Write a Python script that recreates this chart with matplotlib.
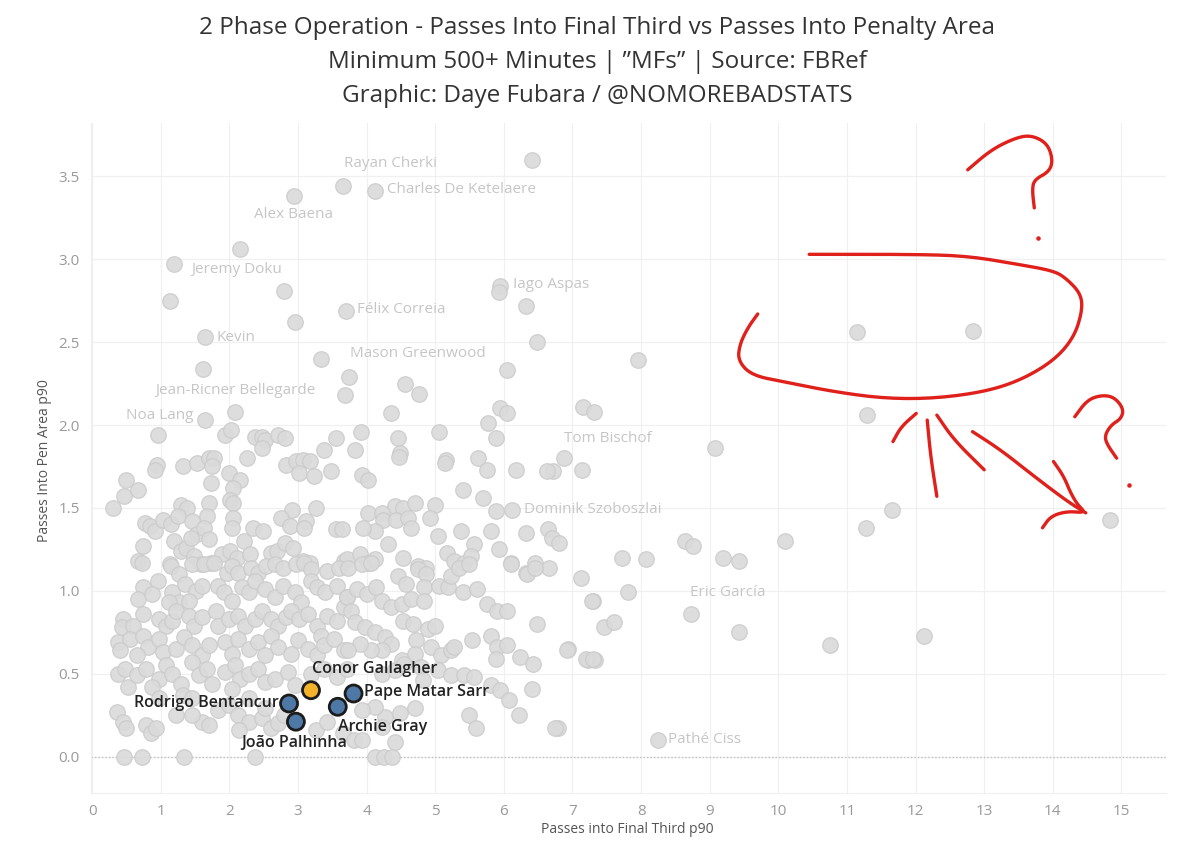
import matplotlib
matplotlib.use("Agg")
import matplotlib.pyplot as plt
import numpy as np

plt.rcParams['font.family'] = ['Open Sans', 'DejaVu Sans']

# grey players, (passes into final third p90, passes into pen area p90)
top_pts = [(6.41, 3.60), (3.66, 3.44), (4.12, 3.41), (2.94, 3.38), (2.15, 3.06), (1.20, 2.97),
           (2.80, 2.81), (1.13, 2.75), (3.70, 2.69), (2.95, 2.62), (1.64, 2.53), (5.94, 2.84),
           (5.93, 2.80), (6.33, 2.72), (6.49, 2.50), (3.34, 2.40), (1.61, 2.34), (3.74, 2.29),
           (6.04, 2.33), (4.56, 2.25), (4.77, 2.19), (3.69, 2.18), (2.08, 2.08), (1.64, 2.03),
           (4.36, 2.07), (5.77, 2.01), (5.94, 2.10), (6.04, 2.07), (7.15, 2.11), (7.32, 2.08),
           (7.96, 2.39)]

upper_pts = [(5.06, 1.96), (4.46, 1.92), (5.88, 1.92), (3.92, 1.96), (3.56, 1.92), (3.83, 1.85),
             (3.38, 1.85), (0.96, 1.94), (1.93, 1.94), (2.03, 1.97), (2.37, 1.93), (2.47, 1.93),
             (2.52, 1.91), (2.71, 1.94), (2.81, 1.92), (2.47, 1.86), (4.49, 1.83), (5.16, 1.79),
             (5.63, 1.80), (6.88, 1.80), (2.26, 1.80), (2.82, 1.76), (2.97, 1.78), (3.07, 1.79),
             (3.17, 1.78), (3.02, 1.71), (3.24, 1.69), (3.48, 1.72), (0.94, 1.76), (0.91, 1.73),
             (1.32, 1.75), (1.53, 1.77), (1.70, 1.80), (1.77, 1.80), (1.75, 1.75), (1.99, 1.71),
             (2.16, 1.67), (2.06, 1.62), (1.73, 1.65), (0.50, 1.67), (0.47, 1.57), (0.67, 1.61),
             (0.31, 1.50), (9.07, 1.86), (7.14, 1.73), (6.71, 1.72), (4.47, 1.81), (3.93, 1.70),
             (4.02, 1.67), (5.14, 1.77), (5.75, 1.73), (6.18, 1.73), (6.63, 1.72), (5.41, 1.61),
             (5.70, 1.56), (5.88, 1.48), (6.12, 1.49)]

band_pts = [(2.01, 1.55), (2.06, 1.53), (1.70, 1.53), (1.29, 1.52), (1.39, 1.50), (2.92, 1.49),
            (3.26, 1.50), (1.68, 1.45), (0.77, 1.41), (0.84, 1.39), (0.91, 1.36), (1.03, 1.43),
            (1.15, 1.40), (1.25, 1.45), (1.46, 1.42), (1.53, 1.34), (1.63, 1.38), (2.06, 1.44),
            (2.04, 1.38), (2.35, 1.38), (2.49, 1.36), (2.76, 1.44), (2.88, 1.39), (3.12, 1.42),
            (3.09, 1.38), (3.55, 1.37), (4.41, 1.51), (4.53, 1.50), (4.71, 1.53), (4.99, 1.52),
            (4.02, 1.47), (4.22, 1.47), (4.24, 1.43), (4.12, 1.36), (3.95, 1.38), (4.43, 1.43),
            (4.60, 1.44), (4.65, 1.38), (4.92, 1.44), (5.04, 1.33), (5.38, 1.36), (5.56, 1.28),
            (5.82, 1.36), (5.93, 1.25), (6.32, 1.35), (6.65, 1.37), (6.70, 1.32), (6.81, 1.29),
            (4.31, 1.28), (3.64, 1.37), (0.74, 1.27), (0.67, 1.18), (1.20, 1.30), (1.29, 1.24),
            (1.37, 1.26), (1.49, 1.21), (1.70, 1.31), (1.44, 1.32), (1.89, 1.22), (2.01, 1.24),
            (2.11, 1.20), (2.21, 1.30), (2.30, 1.22), (2.61, 1.23), (2.69, 1.24), (2.81, 1.29),
            (2.93, 1.26), (3.07, 1.18), (3.17, 1.17), (1.13, 1.16), (1.73, 1.17), (1.58, 1.16),
            (3.67, 1.18), (4.53, 1.20), (3.71, 1.19), (3.90, 1.22), (4.02, 1.17), (4.12, 1.19),
            (4.75, 1.15), (4.87, 1.14), (5.17, 1.23), (5.28, 1.18), (5.42, 1.17), (5.52, 1.21),
            (6.10, 1.17), (6.46, 1.17), (6.66, 1.14), (6.33, 1.11), (7.12, 1.08)]

right_pts = [(11.14, 2.56), (12.84, 2.57), (11.29, 2.06), (11.66, 1.49), (11.28, 1.38),
             (14.83, 1.43), (8.64, 1.30), (8.75, 1.27), (10.10, 1.30), (7.72, 1.20), (8.07, 1.19),
             (9.20, 1.20), (9.43, 1.18), (7.30, 0.94), (7.81, 0.99), (8.73, 0.86), (7.46, 0.78),
             (7.60, 0.81), (9.42, 0.75), (10.76, 0.67), (12.13, 0.73), (6.94, 0.65), (7.22, 0.58),
             (7.33, 0.58), (6.79, 0.17), (8.24, 0.10)]

core_pts = [(0.72, 1.17), (1.15, 1.15), (1.27, 1.10), (1.46, 1.16), (1.63, 1.16), (1.77, 1.17),
            (1.96, 1.11), (2.04, 1.15), (2.13, 1.11), (2.32, 1.14), (2.42, 1.11), (2.54, 1.15),
            (2.66, 1.16), (2.78, 1.14), (2.97, 1.16), (3.09, 1.17), (3.19, 1.13), (3.43, 1.12),
            (3.60, 1.14), (0.96, 1.06), (0.74, 1.02), (0.67, 0.95), (0.88, 0.98), (1.17, 0.99),
            (1.27, 0.93), (1.36, 1.04), (1.51, 1.00), (1.60, 1.03), (1.84, 1.03), (1.92, 0.99),
            (2.04, 0.94), (2.18, 1.02), (2.28, 0.99), (2.37, 1.06), (2.52, 1.01), (2.66, 0.96),
            (2.78, 1.03), (2.95, 0.99), (3.04, 0.93), (3.19, 1.06), (3.28, 1.02), (3.40, 0.99),
            (3.57, 1.03), (3.71, 0.96), (1.12, 0.93), (1.41, 0.94), (0.45, 0.83), (0.43, 0.78),
            (0.38, 0.69), (0.60, 0.79), (0.74, 0.86), (0.98, 0.83), (1.08, 0.79), (1.17, 0.82),
            (1.22, 0.88), (1.41, 0.85), (1.48, 0.79), (1.60, 0.84), (1.80, 0.88), (1.84, 0.79),
            (1.99, 0.83), (2.13, 0.85), (2.23, 0.79), (2.37, 0.83), (2.47, 0.88), (2.61, 0.83),
            (2.71, 0.79), (2.83, 0.84), (2.90, 0.88), (3.02, 0.83), (3.14, 0.86), (3.28, 0.79),
            (3.43, 0.85), (3.57, 0.82), (3.67, 0.90), (3.33, 0.73), (0.55, 0.71), (0.74, 0.73),
            (0.81, 0.66), (0.98, 0.71), (1.03, 0.63), (1.22, 0.65), (1.34, 0.72), (1.46, 0.67),
            (1.60, 0.61), (1.70, 0.67), (1.94, 0.69), (2.04, 0.62), (2.13, 0.71), (2.28, 0.65),
            (2.42, 0.69), (2.52, 0.61), (2.61, 0.73), (2.71, 0.66), (2.90, 0.62), (3.00, 0.70),
            (3.14, 0.65), (3.28, 0.61), (3.38, 0.67), (3.52, 0.71), (3.67, 0.64), (0.65, 0.61),
            (0.41, 0.64), (0.38, 0.50), (0.48, 0.53), (0.53, 0.42), (0.65, 0.49), (0.79, 0.53),
            (0.98, 0.47), (1.08, 0.55), (1.17, 0.50), (1.29, 0.44), (1.46, 0.57), (1.56, 0.49),
            (1.68, 0.53), (1.75, 0.44), (1.94, 0.51), (2.08, 0.55), (2.16, 0.47), (2.28, 0.50),
            (2.42, 0.53), (2.52, 0.45), (2.66, 0.47), (2.85, 0.51), (2.95, 0.43), (3.19, 0.50),
            (3.38, 0.53), (3.57, 0.48), (3.71, 0.53), (0.88, 0.42), (2.04, 0.41), (0.36, 0.27),
            (0.45, 0.21), (0.50, 0.17), (0.79, 0.19), (0.86, 0.14), (0.93, 0.17), (1.22, 0.25),
            (1.32, 0.37), (1.46, 0.35), (1.60, 0.21), (1.70, 0.19), (1.84, 0.28), (1.99, 0.31),
            (2.13, 0.25), (2.28, 0.21), (2.47, 0.23), (2.61, 0.17), (2.71, 0.20), (2.80, 0.25),
            (2.52, 0.29), (2.28, 0.35), (1.46, 0.25), (0.98, 0.35), (2.14, 0.16), (3.26, 0.16),
            (3.42, 0.21), (3.65, 0.14), (3.82, 0.10), (0.46, 0.00), (0.73, 0.00), (1.34, 0.00),
            (2.38, 0.00), (4.12, 0.00), (4.26, 0.00), (4.37, 0.00)]

mid_pts = [(3.73, 1.14), (3.93, 1.16), (4.07, 1.17), (4.46, 1.09), (4.58, 1.04), (4.75, 1.13),
           (4.87, 1.10), (4.84, 1.02), (5.06, 1.03), (5.18, 1.02), (5.23, 1.09), (5.35, 1.14),
           (5.49, 1.16), (5.40, 0.99), (5.61, 1.01), (5.76, 0.92), (5.90, 0.88), (6.05, 0.88),
           (6.10, 1.16), (6.34, 1.10), (6.46, 1.14), (7.28, 0.94), (3.71, 0.96), (3.86, 1.01),
           (4.00, 0.98), (4.14, 1.02), (4.22, 0.94), (4.36, 0.90), (4.51, 0.92), (4.65, 0.95),
           (4.84, 0.94), (3.78, 0.88), (3.83, 0.81), (3.98, 0.78), (4.12, 0.75), (4.27, 0.72),
           (4.36, 0.68), (4.53, 0.82), (4.67, 0.80), (4.72, 0.70), (4.89, 0.77), (4.99, 0.79),
           (4.94, 0.66), (5.08, 0.61), (5.23, 0.64), (5.28, 0.66), (5.54, 0.70), (5.81, 0.73),
           (5.90, 0.66), (6.05, 0.67), (5.88, 0.59), (6.24, 0.60), (6.43, 0.56), (6.48, 0.80),
           (6.92, 0.64), (7.20, 0.59), (7.30, 0.59), (4.22, 0.64), (4.07, 0.64), (3.90, 0.68),
           (4.51, 0.58), (4.70, 0.62), (3.73, 0.64), (4.22, 0.50), (4.41, 0.52), (4.55, 0.56),
           (4.80, 0.54), (5.04, 0.52), (5.23, 0.49), (5.42, 0.49), (5.57, 0.48), (5.81, 0.43),
           (5.95, 0.40), (6.07, 0.34), (6.22, 0.25), (6.41, 0.41), (6.75, 0.17), (5.49, 0.25),
           (5.59, 0.17), (4.70, 0.29), (4.41, 0.09), (4.27, 0.24), (4.12, 0.30), (3.93, 0.28),
           (4.48, 0.26), (4.82, 0.46), (4.22, 0.18), (3.93, 0.10)]

# named grey players (label, x, y of text, ha)
grey_labels = [("Rayan Cherki", 3.67, 3.58, "left"), ("Charles De Ketelaere", 4.30, 3.42, "left"),
               ("Alex Baena", 2.93, 3.27, "center"), ("Jeremy Doku", 1.44, 2.94, "left"),
               ("Iago Aspas", 6.13, 2.85, "left"), ("Félix Correia", 3.86, 2.70, "left"),
               ("Kevin", 1.82, 2.53, "left"), ("Mason Greenwood", 3.76, 2.43, "left"),
               ("Jean-Ricner Bellegarde", 2.09, 2.21, "center"), ("Noa Lang", 1.48, 2.06, "right"),
               ("Tom Bischof", 6.87, 1.92, "left"), ("Dominik Szoboszlai", 6.30, 1.49, "left"),
               ("Eric García", 8.71, 0.99, "left"), ("Pathé Ciss", 8.39, 0.10, "left")]

# highlighted players
hl_names = ["Rodrigo Bentancur", "João Palhinha", "Conor Gallagher", "Archie Gray", "Pape Matar Sarr"]
hl_x = [2.87, 2.97, 3.19, 3.58, 3.81]
hl_y = [0.32, 0.21, 0.40, 0.30, 0.38]
hl_col = ["#4e79a7", "#4e79a7", "#f2b22a", "#4e79a7", "#4e79a7"]
hl_text = [(2.72, 0.32, "right"), (2.95, 0.08, "center"), (3.21, 0.53, "left"),
           (3.59, 0.18, "left"), (3.96, 0.39, "left")]

# hand drawn red marks
red_q1 = [(12.76, 3.54), (13.10, 3.66), (13.44, 3.73), (13.68, 3.75), (13.92, 3.70), (14.00, 3.60),
          (13.95, 3.53), (13.73, 3.48), (13.70, 3.42), (13.73, 3.31)]
red_loop = [(10.45, 3.03), (11.98, 3.03), (12.76, 3.02), (13.49, 2.97), (14.02, 2.93), (14.21, 2.88),
            (14.41, 2.79), (14.43, 2.69), (14.31, 2.53), (14.02, 2.39), (13.53, 2.27), (13.00, 2.20),
            (12.27, 2.16), (11.55, 2.16), (10.82, 2.20), (10.09, 2.26), (9.61, 2.30), (9.41, 2.39),
            (9.44, 2.49), (9.56, 2.59), (9.70, 2.67)]
red_s1 = [(11.67, 1.90), (11.79, 1.99), (12.01, 2.07)]
red_s2 = [(12.17, 2.03), (12.22, 1.81), (12.31, 1.57)]
red_s3 = [(12.31, 2.06), (12.56, 1.91), (13.00, 1.73)]
red_arrow = [(12.83, 1.96), (13.24, 1.85), (13.73, 1.69), (14.21, 1.54), (14.48, 1.47)]
red_head = [(14.01, 1.78), (14.16, 1.69), (14.26, 1.59), (14.36, 1.52), (14.48, 1.47), (14.21, 1.48),
            (13.97, 1.45), (13.85, 1.38)]
red_q2 = [(14.32, 2.05), (14.50, 2.15), (14.70, 2.18), (14.89, 2.17), (15.03, 2.10), (15.00, 2.04),
          (14.85, 2.00), (14.76, 1.94), (14.78, 1.89), (14.93, 1.80)]
red_dots = [(13.79, 3.13), (15.11, 1.64)]


def smooth(pts, n=3):
    p = np.array(pts, dtype=float)
    for _ in range(n):
        q = 0.75 * p[:-1] + 0.25 * p[1:]
        r = 0.25 * p[:-1] + 0.75 * p[1:]
        mid = np.empty((2 * len(q), 2))
        mid[0::2] = q
        mid[1::2] = r
        p = np.vstack([p[:1], mid, p[-1:]])
    return p[:, 0], p[:, 1]


fig = plt.figure(figsize=(12, 8.51), dpi=100)
ax = fig.add_axes([0.0756, 0.0682, 0.8961, 0.7868])

for grp in [top_pts, upper_pts, band_pts, right_pts, core_pts, mid_pts]:
    gx = [p[0] for p in grp]
    gy = [p[1] for p in grp]
    ax.scatter(gx, gy, s=125, facecolor="#dadada", edgecolor="#cbcbcb", linewidth=0.9,
               alpha=0.9, zorder=2)

for name, tx, ty, ha in grey_labels:
    ax.text(tx, ty, name, fontsize=11, color="#c6c6c6", ha=ha, va="center", zorder=5)

ax.scatter(hl_x, hl_y, s=150, c=hl_col, edgecolor="#1c1c1c", linewidth=2.0, zorder=4)
for name, (tx, ty, ha) in zip(hl_names, hl_text):
    ax.text(tx, ty, name, fontsize=11.5, color="#222222", ha=ha, va="center",
            fontweight="semibold", zorder=5)

for stroke in [red_q1, red_loop, red_s1, red_s2, red_s3, red_arrow, red_head, red_q2]:
    sx, sy = smooth(stroke)
    ax.plot(sx, sy, color="#e0201b", lw=2.4, solid_capstyle="round",
            solid_joinstyle="round", zorder=6)
ax.scatter([d[0] for d in red_dots], [d[1] for d in red_dots], s=5, color="#e0201b", zorder=6)

ax.set_xlim(-0.02, 15.65)
ax.set_ylim(-0.22, 3.82)
ax.set_xticks(range(0, 16))
ax.set_yticks([0.0, 0.5, 1.0, 1.5, 2.0, 2.5, 3.0, 3.5])
ax.set_yticklabels(["%.1f" % v for v in [0.0, 0.5, 1.0, 1.5, 2.0, 2.5, 3.0, 3.5]])
ax.tick_params(length=0, labelsize=11, labelcolor="#9a9a9a", pad=8)
ax.grid(True, color="#f0f0f0", lw=0.9)
ax.set_axisbelow(True)
ax.axhline(0, color="#c0c0c0", lw=1.0, ls=(0, (1, 1.5)), zorder=1)
for sp in ax.spines.values():
    sp.set_color("#efefef")
ax.spines["top"].set_visible(False)
ax.spines["right"].set_visible(False)

fig.text(0.4975, 0.967, "2 Phase Operation - Passes Into Final Third vs Passes Into Penalty Area",
         ha="center", va="center", fontsize=17.5, color="#333333")
fig.text(0.4975, 0.927, "Minimum 500+ Minutes | \u201dMFs\u201d | Source: FBRef",
         ha="center", va="center", fontsize=17.5, color="#333333")
fig.text(0.4975, 0.887, "Graphic: Daye Fubara / @NOMOREBADSTATS",
         ha="center", va="center", fontsize=17.5, color="#333333")
fig.text(0.523, 0.0247, "Passes into Final Third p90", ha="center", va="center",
         fontsize=10, color="#555555")
fig.text(0.0375, 0.459, "Passes Into Pen Area p90", ha="center", va="center",
         fontsize=10, color="#555555", rotation=90)

fig.savefig("out.png", dpi=100, facecolor="white")
